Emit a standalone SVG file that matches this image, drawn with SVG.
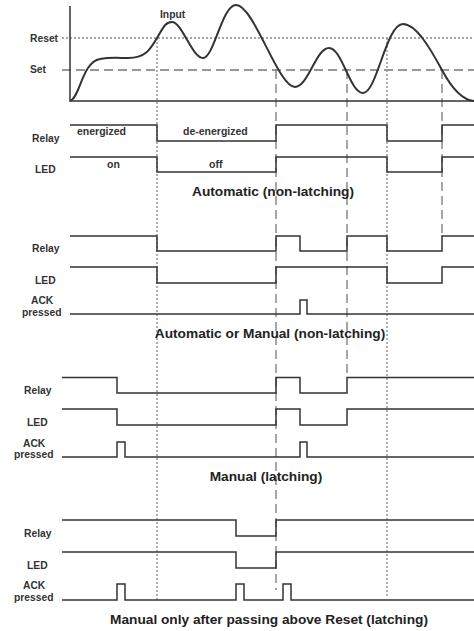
<svg xmlns="http://www.w3.org/2000/svg" width="474" height="631" viewBox="0 0 474 631">
<style>
.lbl{font-family:"Liberation Sans",Arial,sans-serif;font-weight:bold;font-size:10.3px;fill:#333}
.st{font-family:"Liberation Sans",Arial,sans-serif;font-weight:bold;font-size:10.5px;fill:#333}
.ttl{font-family:"Liberation Sans",Arial,sans-serif;font-weight:bold;font-size:13.7px;fill:#222;text-anchor:middle}
.sig{fill:none;stroke:#333;stroke-width:1.5}
.dot{fill:none;stroke:#888;stroke-width:1.3;stroke-dasharray:2 2}
.dash{fill:none;stroke:#777;stroke-width:1.3;stroke-dasharray:9 5}
</style>
<rect width="474" height="631" fill="#fff"/>
<g id="guides">
<line class="dot" x1="62" y1="38" x2="474" y2="38"/>
<line class="dash" x1="62" y1="70" x2="474" y2="70"/>
<line class="dot" x1="157" y1="38" x2="157" y2="600"/>
<line class="dot" x1="387" y1="38" x2="387" y2="597"/>
<line class="dash" x1="276" y1="70" x2="276" y2="590"/>
<line class="dash" x1="347" y1="70" x2="347" y2="378"/>
<line class="dash" x1="442" y1="70" x2="442" y2="236"/>
</g>
<g id="graph">
<path class="sig" d="M70,6 V101 H474"/>
<path fill="none" stroke="#333" stroke-width="2" d="M70,101 C80,98 82,62 100,59 C110,57 120,58 128,58 C145,58 150,50 157,38 C163,28 165,22 172,22 C182,22 192,58 203,58 C214,58 222,5 236,5 C254,5 278,87 295,87 C308,87 316,48 329,48 C342,48 350,93 363,93 C377,93 386,24 403,24 C416,24 430,48 442,70 C451,87 462,100 474,101"/>
<text class="lbl" x="30" y="41.5">Reset</text>
<text class="lbl" x="30" y="73">Set</text>
<text class="lbl" x="160" y="18">Input</text>
</g>
<g id="section1">
<path class="sig" d="M70,125 H157 V141 H276 V125 H387 V141 H442 V125 H474"/>
<path class="sig" d="M70,157 H157 V172 H276 V157 H387 V172 H442 V157 H474"/>
<text class="lbl" x="32" y="141.5">Relay</text>
<text class="lbl" x="35" y="173">LED</text>
<text class="st" x="77" y="135">energized</text>
<text class="st" x="183" y="135">de-energized</text>
<text class="st" x="107" y="167.5">on</text>
<text class="st" x="209" y="167.5">off</text>
<text class="ttl" x="273" y="196">Automatic (non-latching)</text>
</g>
<g id="section2">
<path class="sig" d="M70,236 H157 V251 H276 V236 H300 V251 H347 V236 H387 V251 H442 V236 H474"/>
<path class="sig" d="M70,267 H157 V283 H276 V267 H387 V283 H442 V267 H474"/>
<path class="sig" d="M70,314 H300 V300 H307 V314 H474"/>
<text class="lbl" x="32" y="252">Relay</text>
<text class="lbl" x="35" y="284">LED</text>
<text class="lbl" x="31" y="304">ACK</text>
<text class="lbl" x="22" y="316">pressed</text>
<text class="ttl" x="270" y="338">Automatic or Manual (non-latching)</text>
</g>
<g id="section3">
<path class="sig" d="M62,377.5 H117 V393 H276 V377.5 H300 V393 H347 V377.5 H474"/>
<path class="sig" d="M62,409 H117 V425 H276 V409 H300 V425 H347 V409 H474"/>
<path class="sig" d="M62,457 H117 V442 H125 V457 H300 V442 H307 V457 H474"/>
<text class="lbl" x="24" y="394">Relay</text>
<text class="lbl" x="27" y="426">LED</text>
<text class="lbl" x="23" y="446.5">ACK</text>
<text class="lbl" x="14" y="458">pressed</text>
<text class="ttl" x="266" y="481">Manual (latching)</text>
</g>
<g id="section4">
<path class="sig" d="M62,520 H236 V536 H276 V520 H474"/>
<path class="sig" d="M62,552 H236 V568 H276 V552 H474"/>
<path class="sig" d="M62,600 H117 V584 H125 V600 H236 V584 H244 V600 H283 V584 H291 V600 H474"/>
<text class="lbl" x="24" y="537">Relay</text>
<text class="lbl" x="27" y="569">LED</text>
<text class="lbl" x="23" y="589">ACK</text>
<text class="lbl" x="14" y="601">pressed</text>
<text class="ttl" x="269" y="624">Manual only after passing above Reset (latching)</text>
</g>
</svg>
